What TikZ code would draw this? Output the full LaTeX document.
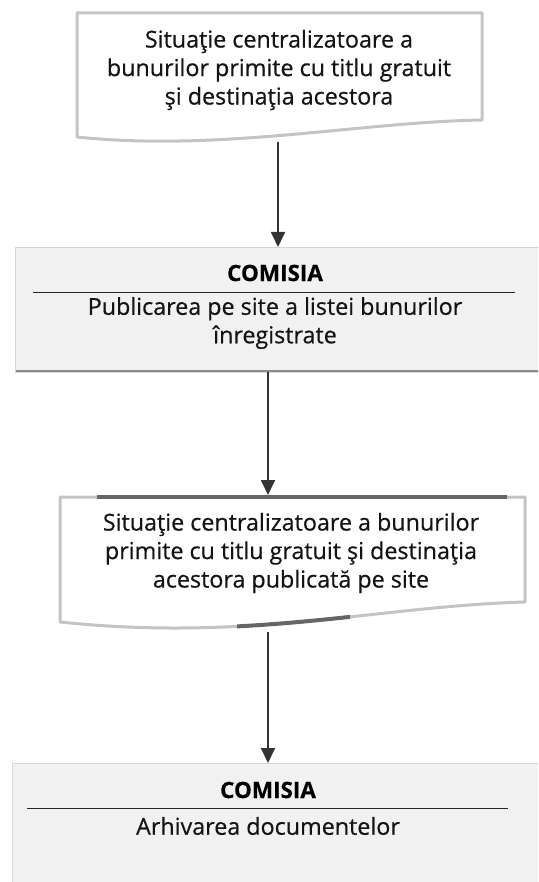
\documentclass[tikz,border=0pt]{standalone}
\usepackage{fontspec}
\setmainfont{Open Sans}[FakeBold=0.5]
\newfontfamily\bodyfont{Open Sans}[FakeBold=0.5]
\usetikzlibrary{arrows.meta}
\definecolor{docgray}{HTML}{C4C4C4}
\definecolor{darkline}{HTML}{666666}
\definecolor{boxfill}{HTML}{F1F1F1}
\definecolor{boxedge}{HTML}{D6D6D6}
\definecolor{arrowcol}{HTML}{333333}
\tikzset{
  x=1pt,y=-1pt,
  docline/.style={draw=docgray,line width=3pt,fill=white,line join=round},
  darkseg/.style={draw=darkline,line width=4pt},
  txt/.style={font=\bodyfont\fontsize{23.3}{28.5}\selectfont,align=center,text=black!92,inner sep=0pt},
  title/.style={font=\fontsize{22.5}{26}\selectfont\bfseries,text=black,inner sep=0pt},
  procbox/.style={draw=boxedge,fill=boxfill,line width=1.2pt},
  sep/.style={draw=black!85,line width=1pt},
  flow/.style={draw=arrowcol,line width=1.8pt,-{Triangle[width=14pt,length=15pt]}},
}
\begin{document}
\begin{tikzpicture}
\useasboundingbox (0,0) rectangle (538,882);
\clip (0,0) rectangle (538,882);
% Document 1
\path[docline] (77,13) -- (482,13) -- (482,120)
  .. controls (360,122) and (220,152) .. (77,137) -- cycle;
\node[txt] (t1) at (279,70) {Situaţie centralizatoare a\\bunurilor primite cu titlu gratuit\\şi destinaţia acestora};
\coordinate (d1) at (278,142);
% Box 2
\node[procbox,minimum width=540pt,minimum height=125pt,anchor=north west] (b2) at (15,247) {};
\draw[black!45,line width=2.5pt] (16,371) -- (545,371);
\node[title] (c2) at (275,273) {COMISIA};
\draw[sep] (33,292) -- (515,292);
\node[txt] (t2) at (275,323) {Publicarea pe site a listei bunurilor\\înregistrate};
\coordinate (b2top) at (278,247);
\coordinate (b2bot) at (268,372);
% Document 3
\path[docline] (60,497) -- (525,497) -- (525,602)
  .. controls (380,606) and (250,642) .. (60,622) -- cycle;
\draw[darkseg] (97,497) -- (507,497);
\begin{scope}
  \clip (237,580) rectangle (350,660);
  \draw[darkseg] (525,602) .. controls (380,606) and (250,642) .. (60,622);
\end{scope}
\node[txt] (t3) at (291,553) {Situaţie centralizatoare a bunurilor\\primite cu titlu gratuit şi destinaţia\\acestora publicată pe site};
\coordinate (d3top) at (268,495);
\coordinate (d3) at (268,632);
% Box 4
\node[procbox,minimum width=540pt,minimum height=130pt,anchor=north west] (b4) at (12,763) {};
\node[title] (c4) at (268,790) {COMISIA};
\draw[sep] (27,808) -- (508,808);
\node[txt] (t4) at (268,826) {Arhivarea documentelor};
\coordinate (b4top) at (268,763);
% Arrows
\draw[flow] (d1) -- (b2top);
\draw[flow] (b2bot) -- (d3top);
\draw[flow] (d3) -- (b4top);
\end{tikzpicture}
\end{document}
